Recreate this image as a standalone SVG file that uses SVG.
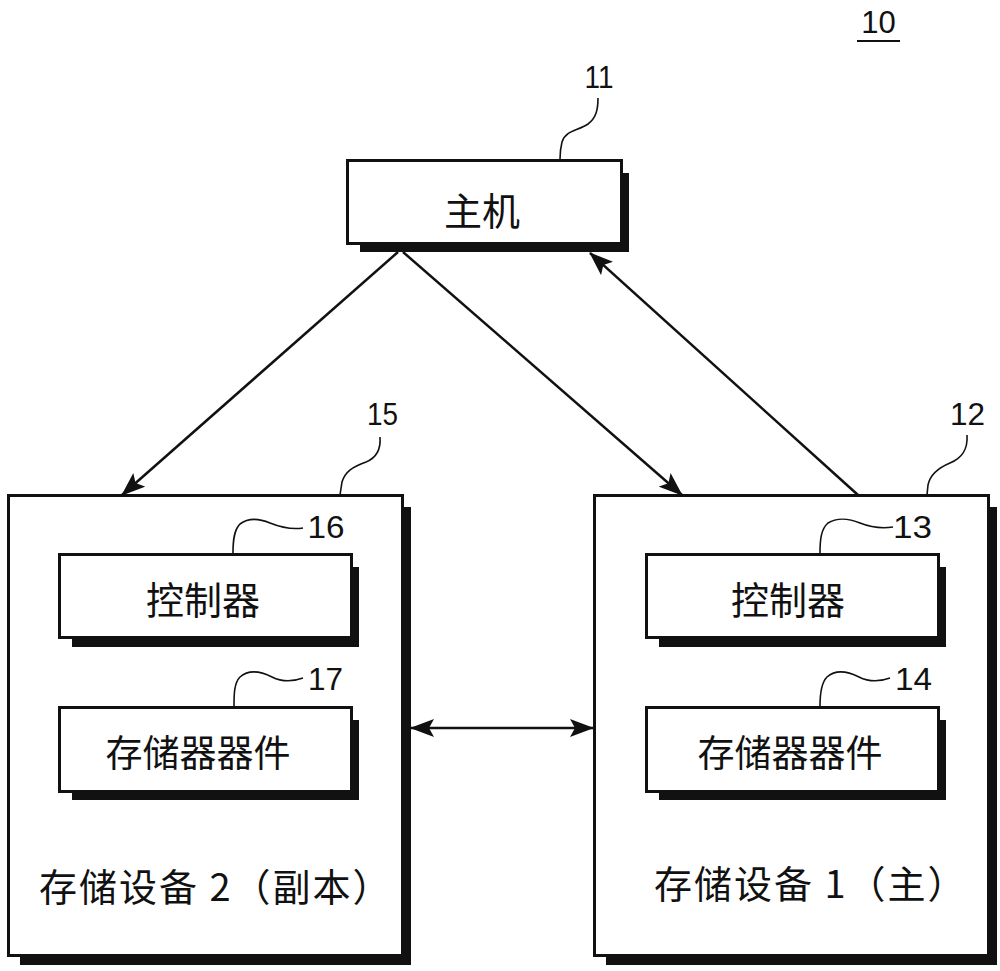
<svg xmlns="http://www.w3.org/2000/svg" width="1000" height="971" viewBox="0 0 1000 971">
  <defs>
    <marker id="arrow" markerUnits="userSpaceOnUse" markerWidth="24" markerHeight="18" viewBox="0 0 24 18" refX="23" refY="9" orient="auto-start-reverse">
      <path d="M0,0 L24,9 L0,18 L5,9 z" fill="#111"/>
    </marker>
    <style>
      .box { fill: #fff; stroke: #111; stroke-width: 3; }
      .shadow { fill: #111; }
      .cjk { font-family: "Noto Sans CJK SC", "Noto Sans", sans-serif; fill: #111; text-anchor: middle; dominant-baseline: central; }
      .dev { text-anchor: start; letter-spacing: 2px; }
      .num { font-family: "Liberation Sans Narrow", "Liberation Sans", Arial, sans-serif; font-size: 31px; fill: #111; text-anchor: middle; }
      .lead { fill: none; stroke: #111; stroke-width: 1.6; }
      .conn { fill: none; stroke: #111; stroke-width: 2.5; }
    </style>
  </defs>
  <rect width="1000" height="971" fill="#fff"/>

  <g id="label-10">
    <text class="num" x="878.5" y="33" font-size="32">10</text>
    <line x1="857" y1="41" x2="900" y2="41" stroke="#111" stroke-width="2"/>
  </g>

  <g id="host">
    <rect class="shadow" x="360" y="173" width="269" height="79"/>
    <rect class="box" x="347.5" y="160.5" width="274" height="83"/>
    <text class="cjk" x="482" y="208" font-size="38">主机</text>
    <path class="lead" d="M598,98 C598,110 596,118 588,124 C578,131 566,130 562,142 C560,150 560,155 560,159"/>
    <text class="num" x="599" y="88" textLength="29" lengthAdjust="spacingAndGlyphs">11</text>
  </g>

  <g id="storage2">
    <rect class="shadow" x="20" y="507" width="391" height="458"/>
    <rect class="box" x="8.5" y="495.5" width="394" height="460"/>
    <text class="cjk dev" x="39" y="884" font-size="38">存储设备 2（副本）</text>
    <path class="lead" d="M380,437 C381,450 376,458 366,462 C352,467 345,472 342,482 L340,495"/>
    <text class="num" x="382.5" y="425" textLength="31" lengthAdjust="spacingAndGlyphs">15</text>
  </g>

  <g id="controller2">
    <rect class="shadow" x="72" y="567" width="287" height="80"/>
    <rect class="box" x="59.5" y="554.5" width="292" height="83"/>
    <text class="cjk" x="203" y="597" font-size="38">控制器</text>
    <path class="lead" d="M303,528 C290,530 280,527 270,523 C258,518 248,518 240,524 C234,530 233,540 233,553"/>
    <text class="num" x="326" y="538" textLength="37" lengthAdjust="spacingAndGlyphs">16</text>
  </g>

  <g id="memory2">
    <rect class="shadow" x="72" y="720" width="287" height="80"/>
    <rect class="box" x="59.5" y="707.5" width="292" height="84"/>
    <text class="cjk" x="198" y="751" font-size="37">存储器器件</text>
    <path class="lead" d="M303,678 C292,682 282,682 272,677 C260,671 248,670 240,677 C234,683 234,695 234,706"/>
    <text class="num" x="325.5" y="690" textLength="35" lengthAdjust="spacingAndGlyphs">17</text>
  </g>

  <g id="storage1">
    <rect class="shadow" x="606" y="507" width="391" height="458"/>
    <rect class="box" x="594.5" y="495.5" width="394" height="460"/>
    <text class="cjk dev" x="654" y="881" font-size="38">存储设备 1（主）</text>
    <path class="lead" d="M967,435 C968,450 962,458 950,463 C938,468 930,475 928,485 L927,495"/>
    <text class="num" x="967.5" y="425" textLength="35" lengthAdjust="spacingAndGlyphs">12</text>
  </g>

  <g id="controller1">
    <rect class="shadow" x="659" y="567" width="287" height="80"/>
    <rect class="box" x="646.5" y="554.5" width="292" height="83"/>
    <text class="cjk" x="788" y="597" font-size="38">控制器</text>
    <path class="lead" d="M893,527 C880,529 870,527 860,523 C848,518 836,518 828,523 C821,529 820,540 820,553"/>
    <text class="num" x="912.5" y="538" textLength="39" lengthAdjust="spacingAndGlyphs">13</text>
  </g>

  <g id="memory1">
    <rect class="shadow" x="659" y="720" width="287" height="80"/>
    <rect class="box" x="646.5" y="707.5" width="292" height="84"/>
    <text class="cjk" x="790" y="751" font-size="37">存储器器件</text>
    <path class="lead" d="M890,678 C879,682 869,682 859,677 C847,671 835,670 827,677 C821,683 820,695 820,706"/>
    <text class="num" x="913.5" y="690" textLength="37" lengthAdjust="spacingAndGlyphs">14</text>
  </g>

  <g id="connectors">
    <line class="conn" x1="398" y1="252" x2="122" y2="495" marker-end="url(#arrow)"/>
    <line class="conn" x1="403" y1="252" x2="682" y2="495" marker-end="url(#arrow)"/>
    <line class="conn" x1="858" y1="495" x2="590" y2="253" marker-end="url(#arrow)"/>
    <line class="conn" x1="411" y1="728" x2="593" y2="728" marker-start="url(#arrow)" marker-end="url(#arrow)"/>
  </g>
</svg>
